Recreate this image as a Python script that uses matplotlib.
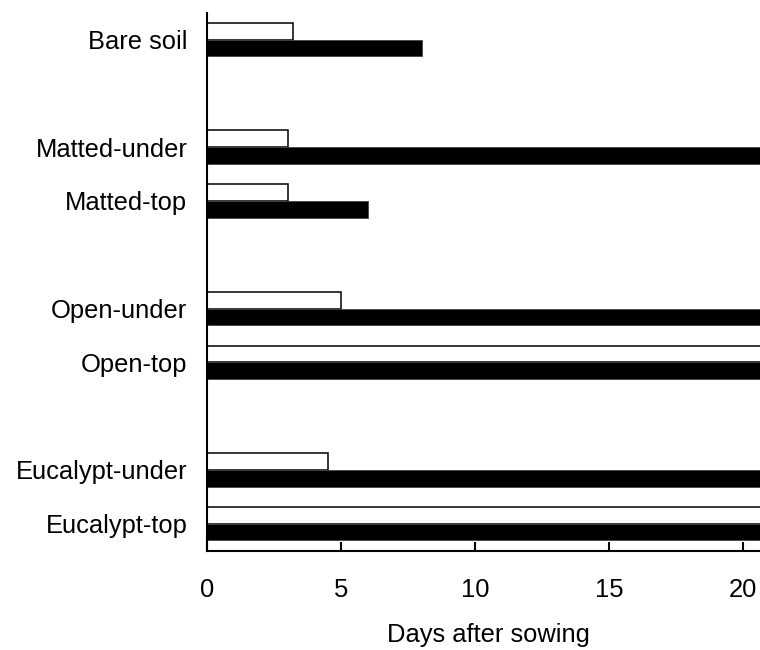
import numpy as np
import matplotlib.pyplot as plt

plt.rcParams['font.family'] = ['Liberation Sans', 'DejaVu Sans']

# Treatments, top to bottom, with their row slots (gaps separate the groups)
treatments = ['Bare soil', 'Matted-under', 'Matted-top', 'Open-under',
              'Open-top', 'Eucalypt-under', 'Eucalypt-top']
rows = [0, 2, 3, 5, 6, 8, 9]

# Days after sowing; 21 = beyond the end of the observation window
first_day = [3.2, 3.0, 3.0, 5.0, 21, 4.5, 21]
last_day = [8.0, 21, 6.0, 21, 21, 21, 21]

xticks = [0, 5, 10, 15, 20]

fig = plt.figure(figsize=(7.6, 6.5), dpi=100)
ax = fig.add_axes((0.2727, 0.153, 0.7273, 0.8275))

y = np.array(rows, dtype=float)
h = 0.31
ax.barh(y - h / 2, first_day, height=h, color='white', edgecolor='black',
        linewidth=1.1)
ax.barh(y + h / 2, last_day, height=h, color='black', edgecolor='#444444',
        linewidth=0.6)

ax.set_xlim(0, 20.62)
ax.set_ylim(9.5, -0.5)
ax.set_yticks(rows)
ax.set_yticklabels(treatments)
ax.set_xticks(xticks)

ax.spines['top'].set_visible(False)
ax.spines['right'].set_visible(False)
for side in ('left', 'bottom'):
    ax.spines[side].set_linewidth(1.5)

ax.tick_params(axis='y', length=0, pad=14.4, labelsize=18.4)
ax.tick_params(axis='x', direction='in', length=6.5, width=1.5, pad=20,
               labelsize=18.4)

ax.set_xlabel('Days after sowing', fontsize=18.4, labelpad=22)
ax.xaxis.set_label_coords(0.508, -0.135)

fig.savefig('out.png', dpi=100)
